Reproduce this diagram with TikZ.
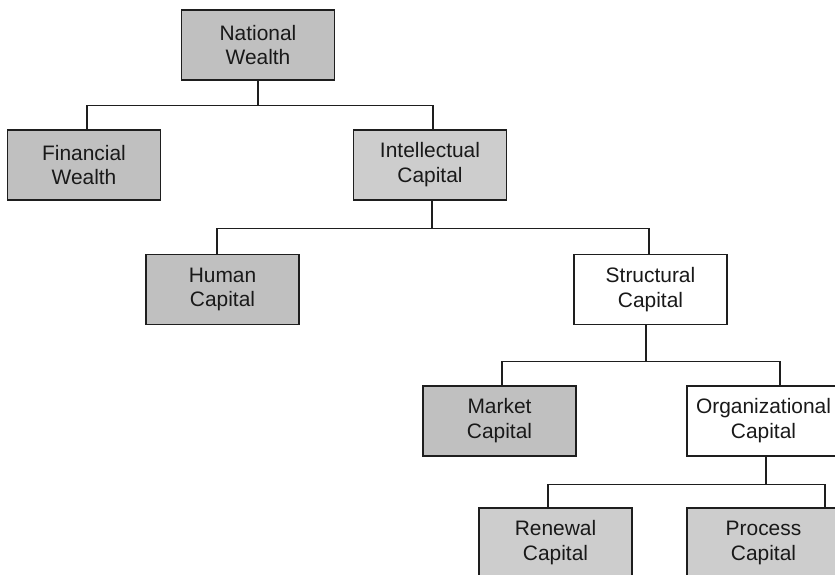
\documentclass[tikz,border=0pt]{standalone}
\usepackage{fontspec}
\setmainfont{Liberation Sans}
\definecolor{boxgray}{HTML}{C0C0C0}
\definecolor{boxlight}{HTML}{CDCDCD}
\definecolor{inkline}{HTML}{1E1E1E}
\begin{document}
\begin{tikzpicture}[x=1bp,y=-1bp,
  unit/.style={draw=inkline, line width=1.4bp, minimum width=153bp, minimum height=70bp,
    inner sep=0pt, align=center, font=\fontsize{21}{25}\selectfont, text=black!90},
  shaded/.style={unit, fill=boxgray},
  light/.style={unit, fill=boxlight},
  plain/.style={unit, fill=white},
  link/.style={draw=inkline, line width=1.2bp}]
\useasboundingbox (0,0) rectangle (835,575);
\clip (0,0) rectangle (835,575);

% boxes
\node[shaded] (nw) at (258,45)    {National\\Wealth};
\node[shaded] (fw) at (84,165)    {Financial\\Wealth};
\node[light]  (ic) at (430,165)   {Intellectual\\Capital};
\node[shaded] (hc) at (222.5,289.5) {Human\\Capital};
\node[plain]  (sc) at (650.5,289.5) {Structural\\Capital};
\node[shaded] (mc) at (499.5,421) {Market\\Capital};
\node[plain]  (oc) at (763.5,421) {Organizational\\Capital};
\node[light]  (rc) at (555.5,543) {Renewal\\Capital};
\node[light]  (pc) at (763.5,543) {Process\\Capital};

% branch junctions
\coordinate (nwj) at ([yshift=-25bp]nw.south);
\coordinate (icj) at ([xshift=2bp,yshift=-28bp]ic.south);
\coordinate (scj) at ([xshift=-4.5bp,yshift=-36bp]sc.south);
\coordinate (ocj) at ([xshift=2.5bp,yshift=-27.5bp]oc.south);

% connectors
\draw[link] (nw.south) -- (nwj);
\draw[link] ([xshift=3bp]fw.north) |- (nwj) -| ([xshift=3bp]ic.north);

\draw[link] ([xshift=2bp]ic.south) -- (icj);
\draw[link] ([xshift=-5.5bp]hc.north) |- (icj) -| ([xshift=-1.5bp]sc.north);

\draw[link] ([xshift=-4.5bp]sc.south) -- (scj);
\draw[link] ([xshift=2.5bp]mc.north) |- (scj) -| ([xshift=16.5bp]oc.north);

\draw[link] ([xshift=2.5bp]oc.south) -- (ocj);
\draw[link] ([xshift=-7.5bp]rc.north) |- (ocj) -| ([xshift=61.5bp]pc.north);
\end{tikzpicture}
\end{document}
